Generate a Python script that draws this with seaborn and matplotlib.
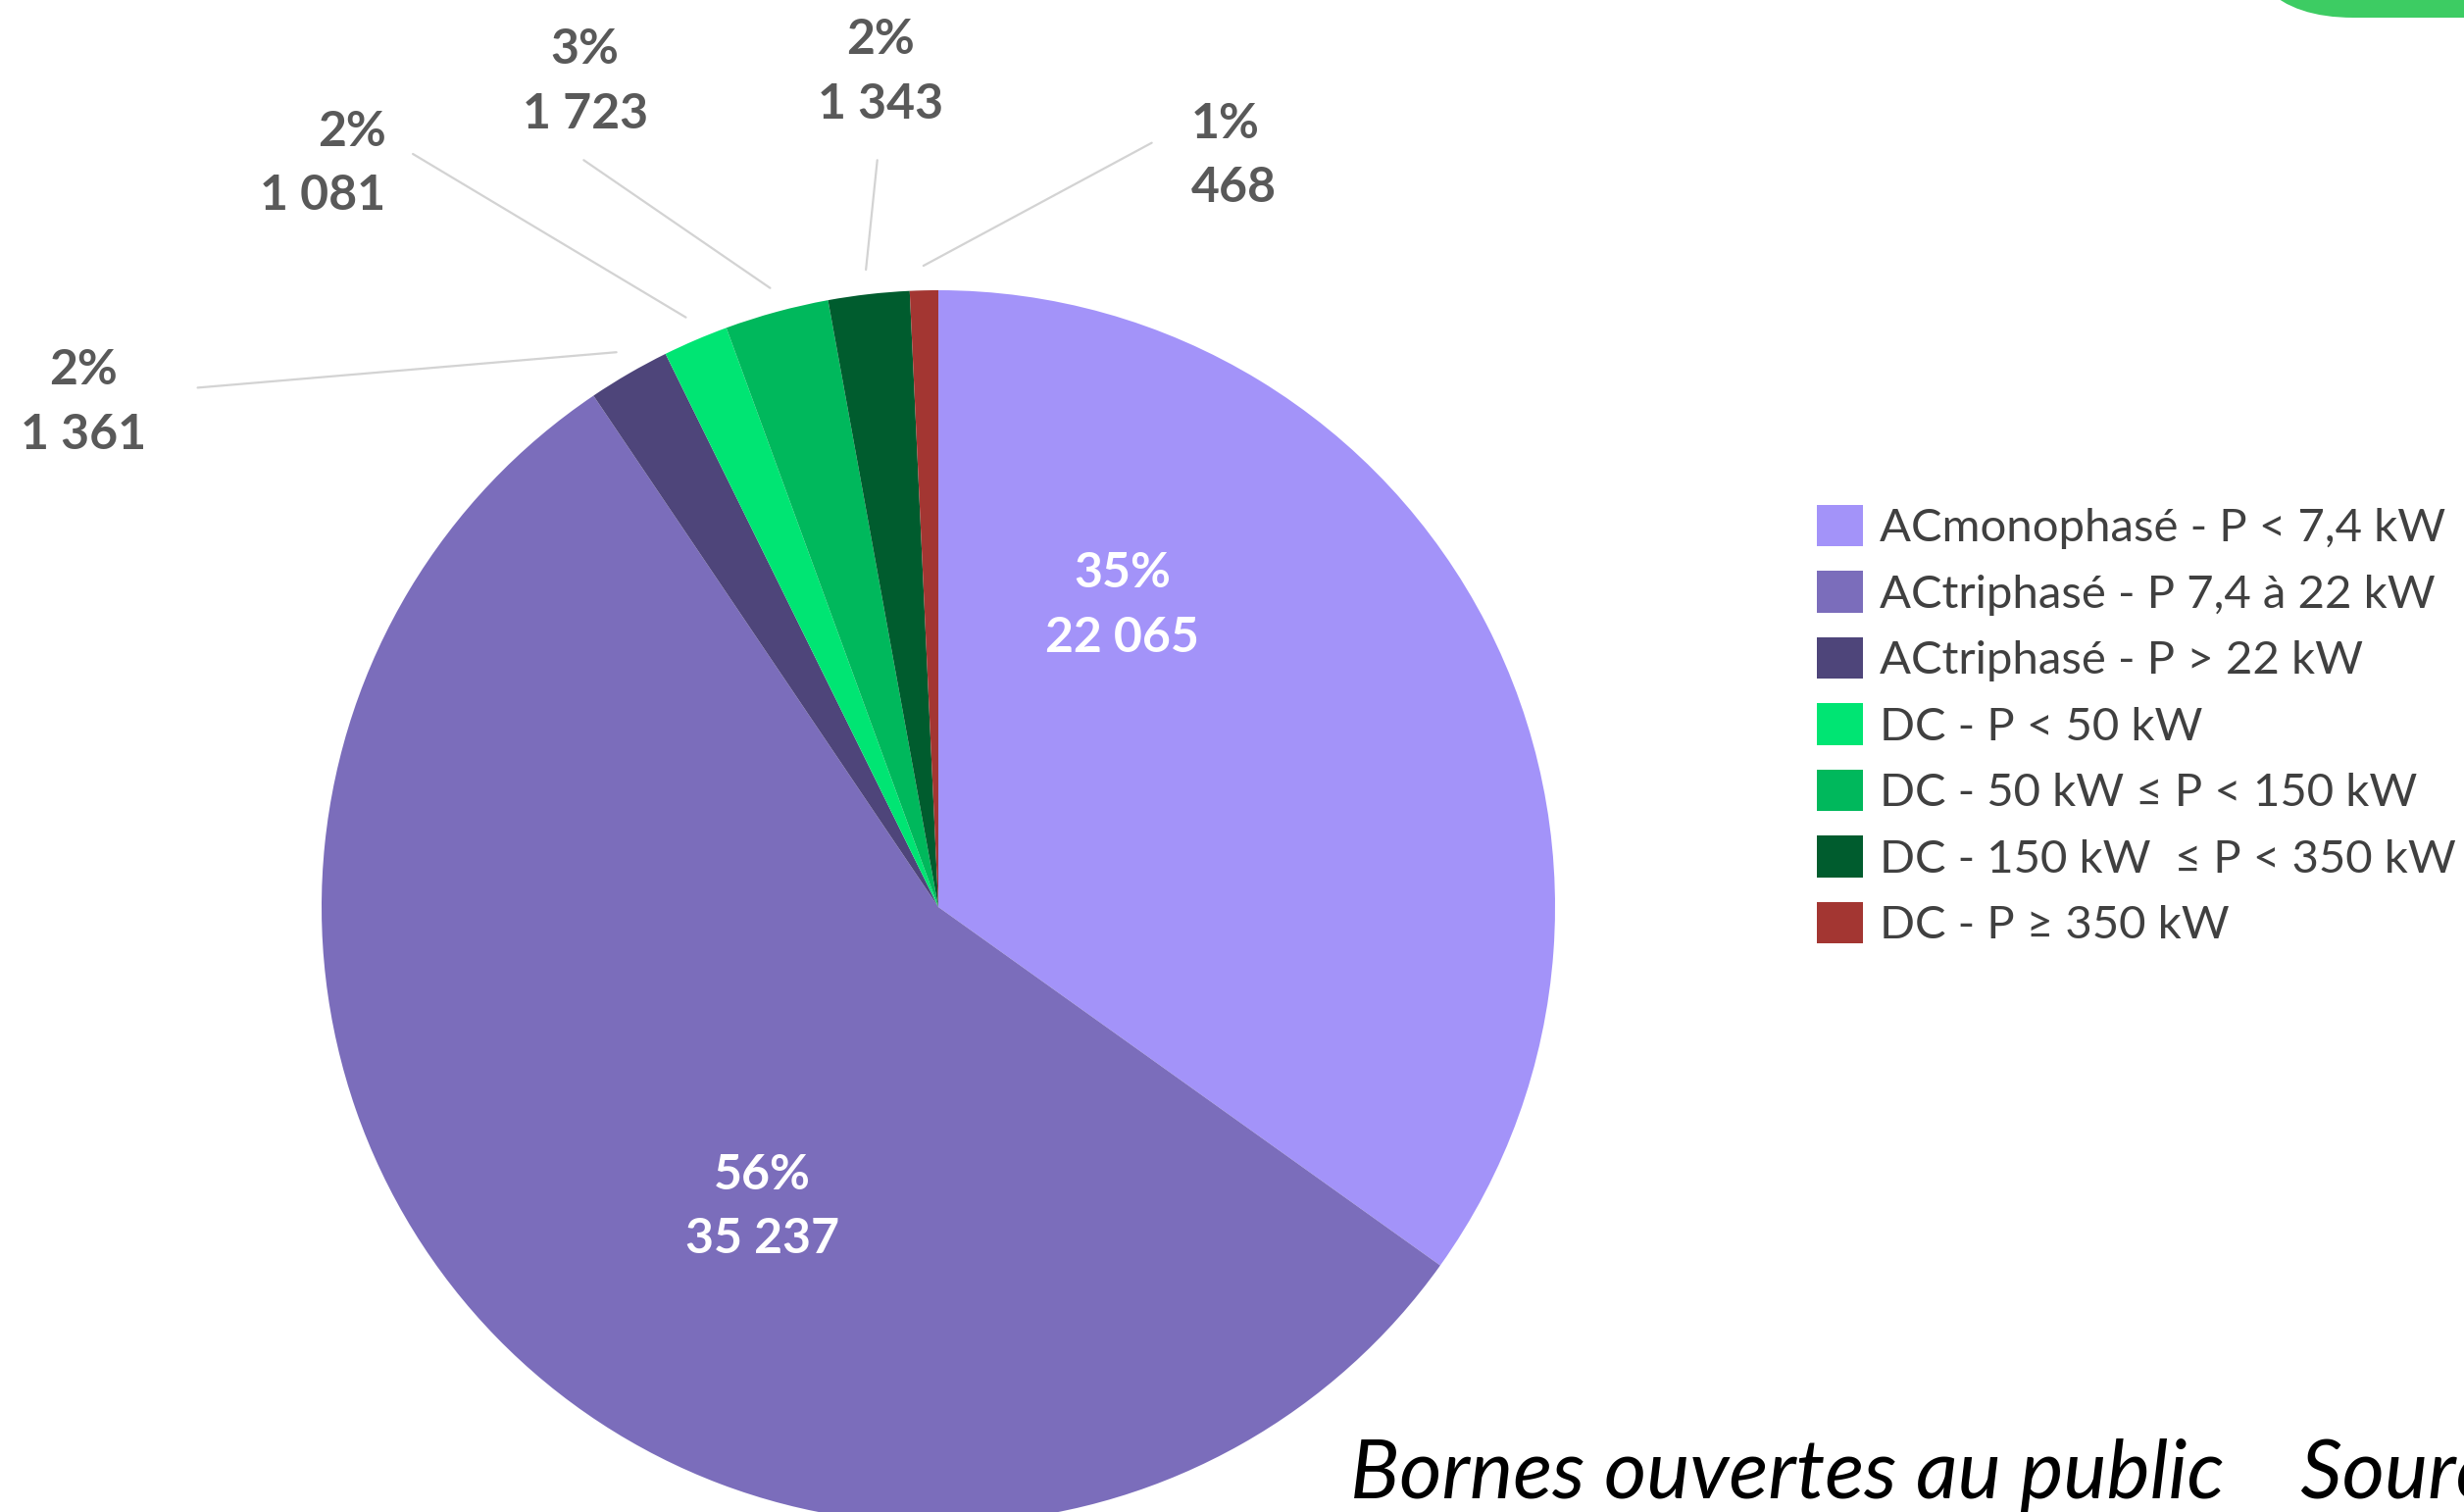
import numpy as np
import matplotlib
matplotlib.use("Agg")
import matplotlib.pyplot as plt
import seaborn as sns
from matplotlib.patches import FancyBboxPatch, Patch

# Data
categories = [
    "ACmonophasé - P < 7,4 kW",
    "ACtriphasé - P 7,4 à 22 kW",
    "ACtriphasé - P > 22 kW",
    "DC - P < 50 kW",
    "DC - 50 kW ≤ P < 150 kW",
    "DC - 150 kW  ≤ P < 350 kW",
    "DC - P ≥ 350 kW",
]
counts = [22065, 35237, 1361, 1081, 1723, 1343, 468]
colors = ["#A393F9", "#7B6DBB", "#4E457A", "#00E573", "#00B85C", "#005C2E", "#A33632"]

sns.set_theme(style="white")
plt.rcParams["font.family"] = ["Lato", "DejaVu Sans"]

W, H = 2513, 1542
fig = plt.figure(figsize=(W / 100, H / 100), dpi=100)

# background overlay (pixel coords) for the green corner shape
bg = fig.add_axes([0, 0, 1, 1], zorder=0)
bg.set_xlim(0, W)
bg.set_ylim(H, 0)
bg.axis("off")
bg.add_patch(FancyBboxPatch((2281, -300), 400, 318,
                            boxstyle="round,pad=0,rounding_size=119",
                            facecolor="#3DCC63", edgecolor="none"))

# pie
cx, cy, r = 957, 925, 629
ax = fig.add_axes([(cx - r) / W, (H - cy - r) / H, 2 * r / W, 2 * r / H], zorder=1)
wedges, _ = ax.pie(counts, colors=sns.color_palette(colors), startangle=90,
                   counterclock=False, wedgeprops=dict(linewidth=0))
ax.set_xlim(-1, 1)
ax.set_ylim(-1, 1)
ax.axis("off")

total = sum(counts)
def lab(v):
    return f"{round(100 * v / total)}%\n{v:,}".replace(",", " ")

# inner labels
inner_pos = [(0.298, 0.489), (-0.285, -0.486)]
for i, (x, y) in enumerate(inner_pos):
    ax.text(x, y, lab(counts[i]), ha="center", va="center", color="white",
            fontsize=36, fontweight="bold", linespacing=1.55)

# outer labels with leader lines
outer_text = [(-1.387, 0.818, "center"), (-0.896, 1.205, "right"),
              (-0.573, 1.338, "center"), (-0.094, 1.354, "center"),
              (0.410, 1.218, "left")]
line_end = [(-1.201, 0.842), (-0.852, 1.221), (-0.575, 1.211),
            (-0.099, 1.211), (0.346, 1.239)]
for k, i in enumerate(range(2, 7)):
    w = wedges[i]
    mid = np.deg2rad((w.theta1 + w.theta2) / 2)
    sx, sy = 1.04 * np.cos(mid), 1.04 * np.sin(mid)
    ex, ey = line_end[k]
    ax.plot([sx, ex], [sy, ey], color="#D3D3D3", lw=1.6, clip_on=False)
    tx, ty, ha = outer_text[k]
    ax.text(tx, ty, lab(counts[i]), ha=ha, va="center", color="#595959",
            fontsize=36, fontweight="bold", linespacing=1.55, clip_on=False)

# legend
handles = [Patch(facecolor=c, edgecolor="none") for c in colors]
fig.legend(handles, categories, loc="upper left",
           bbox_to_anchor=(1853 / W, 1 - 515 / H), frameon=False,
           fontsize=34, handlelength=1.0, handleheight=1.0,
           handletextpad=0.35, labelspacing=0.47, borderpad=0,
           borderaxespad=0, labelcolor="#404040")

# caption (runs off the right edge like the source)
fig.text(1377 / W, 1 - 1528 / H, "Bornes ouvertes au public    Source",
         ha="left", va="baseline", fontsize=60, style="italic",
         fontweight="normal", color="black")

fig.savefig("out.png", dpi=100)
